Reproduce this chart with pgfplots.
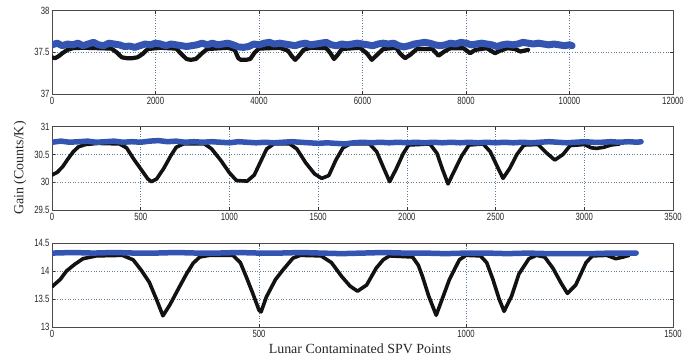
\documentclass[border=0pt]{standalone}
\usepackage{pgfplots}
\pgfplotsset{compat=1.18}
\usepackage{fontspec}
\setmainfont{Liberation Serif}
\newfontfamily\tickfont{Liberation Sans}
\definecolor{bluser}{RGB}{52,84,178}
\definecolor{blkser}{RGB}{18,18,18}
\definecolor{gridc}{RGB}{95,125,150}
\definecolor{framec}{RGB}{80,72,72}
\pgfplotsset{
  panel/.style={
    scale only axis, width=621bp, anchor=north west,
    axis line style={framec, line width=0.9bp},
    xmajorgrids, ymajorgrids,
    grid style={gridc, line width=0.7bp, dash pattern=on 0.8bp off 1.8bp},
    major tick length=3bp,
    tick style={black!80, line width=0.7bp},
    tick label style={font=\tickfont\fontsize{10.5}{12}\selectfont, text=black!85, xscale=0.74},
    /pgf/number format/assume math mode=true,
    /pgf/number format/1000 sep={},
    scaled x ticks=false, scaled y ticks=false,
    axis background/.style={fill=white},
  },
  blk/.style={blkser, line width=3.6bp, line join=round, line cap=round},
  blu/.style={bluser, line width=5.5bp, line join=round, line cap=round},
}
\begin{document}
\begin{tikzpicture}
\useasboundingbox (0,0) rectangle (698bp,-358bp);
% Panel 1
\begin{axis}[panel, at={(52bp,-10.7bp)}, height=83.3bp,
  xmin=0, xmax=12000, ymin=37, ymax=38,
  xtick={0,2000,...,12000}, ytick={37,37.5,38}]
\addplot[blk, line width=4.2bp] coordinates {
(0,37.44) (60,37.43) (120,37.45) (200,37.49) (300,37.53) (400,37.55) (600,37.555) (900,37.55)
(1150,37.545) (1250,37.50) (1350,37.44) (1450,37.43) (1550,37.43) (1650,37.44) (1750,37.48) (1850,37.54)
(2100,37.555) (2400,37.545) (2500,37.48) (2600,37.42) (2680,37.41) (2780,37.42) (2900,37.49) (3000,37.54)
(3400,37.555) (3530,37.53) (3600,37.43) (3650,37.41) (3750,37.41) (3830,37.42) (3920,37.50) (4000,37.545)
(4400,37.555) (4560,37.52) (4640,37.45) (4700,37.41) (4760,37.45) (4860,37.53) (5000,37.555) (5300,37.55)
(5380,37.49) (5450,37.42) (5520,37.47) (5600,37.54) (5950,37.555) (6080,37.49) (6180,37.41) (6280,37.47)
(6400,37.54) (6650,37.555) (6720,37.49) (6820,37.43) (6920,37.47) (7050,37.54) (7350,37.54) (7470,37.46)
(7580,37.51) (7700,37.55) (7950,37.55) (8080,37.49) (8180,37.53) (8400,37.55) (8480,37.52) (8560,37.49)
(8660,37.52) (8800,37.55) (8950,37.54) (9050,37.51) (9200,37.53)};
\addplot[blu, line width=7bp] coordinates {
(0,37.59) (100,37.61) (200,37.58) (300,37.60) (400,37.59) (500,37.61) (600,37.58) (700,37.60) (800,37.62) (900,37.59)
(1000,37.58) (1100,37.61) (1200,37.60) (1300,37.59) (1400,37.57) (1500,37.575) (1600,37.56) (1700,37.58) (1800,37.60) (1900,37.59)
(2000,37.61) (2100,37.60) (2200,37.58) (2300,37.60) (2400,37.59) (2500,37.58) (2600,37.57) (2700,37.58) (2800,37.59) (2900,37.61)
(3000,37.59) (3100,37.61) (3200,37.59) (3300,37.60) (3400,37.61) (3500,37.59) (3600,37.565) (3700,37.56) (3800,37.57) (3900,37.60)
(4000,37.59) (4100,37.61) (4200,37.62) (4300,37.60) (4400,37.61) (4500,37.60) (4600,37.59) (4700,37.58) (4800,37.60) (4900,37.61)
(5000,37.59) (5100,37.60) (5200,37.61) (5300,37.62) (5400,37.59) (5500,37.58) (5600,37.60) (5700,37.59) (5800,37.60) (5900,37.61)
(6000,37.60) (6100,37.59) (6200,37.58) (6300,37.60) (6400,37.61) (6500,37.60) (6600,37.61) (6700,37.58) (6800,37.565) (6900,37.58)
(7000,37.60) (7100,37.61) (7200,37.62) (7300,37.61) (7400,37.59) (7500,37.58) (7600,37.59) (7700,37.61) (7800,37.60) (7900,37.62)
(8000,37.61) (8100,37.59) (8200,37.60) (8300,37.61) (8400,37.60) (8500,37.59) (8600,37.57) (8700,37.59) (8800,37.60) (8900,37.59)
(9000,37.60) (9100,37.62) (9200,37.61) (9300,37.60) (9400,37.61) (9500,37.60) (9600,37.59) (9700,37.60) (9800,37.59) (9900,37.58)
(10000,37.59) (10050,37.58)};
\end{axis}
% Panel 2
\begin{axis}[panel, at={(52bp,-126.7bp)}, height=83.3bp,
  xmin=0, xmax=3500, ymin=29.5, ymax=31,
  xtick={0,500,...,3500}, ytick={29.5,30,30.5,31}]
\addplot[blk] coordinates {
(0,30.13) (30,30.18) (60,30.28) (90,30.42) (120,30.55) (150,30.64) (190,30.68) (260,30.70) (380,30.69)
(420,30.62) (460,30.42) (500,30.24) (540,30.06) (560,30.01) (590,30.06) (630,30.25) (670,30.48) (700,30.63)
(740,30.69) (860,30.69) (900,30.60) (950,30.40) (1000,30.17) (1040,30.03) (1100,30.02) (1140,30.13) (1180,30.40)
(1210,30.60) (1250,30.69) (1340,30.69) (1380,30.60) (1430,30.35) (1480,30.15) (1520,30.07) (1560,30.12) (1600,30.40)
(1640,30.62) (1680,30.69) (1790,30.69) (1830,30.55) (1870,30.25) (1903,30.01) (1940,30.24) (1980,30.52) (2010,30.67)
(2130,30.69) (2170,30.52) (2200,30.24) (2232,29.97) (2270,30.22) (2310,30.48) (2350,30.67) (2430,30.69) (2470,30.55)
(2510,30.28) (2542,30.07) (2580,30.25) (2620,30.50) (2660,30.67) (2740,30.68) (2790,30.52) (2834,30.40) (2880,30.50)
(2920,30.66) (3000,30.68) (3040,30.62) (3070,30.61) (3110,30.63) (3150,30.67) (3200,30.69)};
\addplot[blu] coordinates {
(0,30.72) (50,30.74) (100,30.72) (150,30.73) (200,30.74) (250,30.72) (300,30.73) (350,30.74) (400,30.72)
(450,30.73) (500,30.72) (550,30.74) (600,30.75) (650,30.73) (700,30.74) (750,30.72) (800,30.73) (850,30.72)
(900,30.73) (950,30.72) (1000,30.71) (1050,30.73) (1100,30.72) (1150,30.71) (1200,30.72) (1250,30.71) (1300,30.72)
(1350,30.73) (1400,30.72) (1450,30.71) (1500,30.70) (1550,30.71) (1600,30.70) (1650,30.69) (1700,30.71) (1750,30.72)
(1800,30.71) (1850,30.72) (1900,30.71) (1950,30.72) (2000,30.71) (2050,30.72) (2100,30.71) (2150,30.72) (2200,30.71)
(2250,30.72) (2300,30.71) (2350,30.72) (2400,30.71) (2450,30.72) (2500,30.71) (2550,30.72) (2600,30.71) (2650,30.72)
(2700,30.71) (2750,30.72) (2800,30.73) (2850,30.72) (2900,30.71) (2950,30.72) (3000,30.73) (3050,30.72) (3100,30.72)
(3150,30.73) (3200,30.72) (3250,30.73) (3300,30.72) (3320,30.73)};
\end{axis}
% Panel 3
\begin{axis}[panel, at={(52bp,-243bp)}, height=84bp,
  xmin=0, xmax=1500, ymin=13, ymax=14.5,
  xtick={0,500,1000,1500}, ytick={13,13.5,14,14.5}]
\addplot[blk] coordinates {
(0,13.72) (20,13.85) (35,14.00) (55,14.12) (75,14.22) (107,14.27) (170,14.28) (196,14.20) (215,14.02)
(235,13.80) (252,13.50) (268,13.20) (285,13.40) (308,13.72) (325,13.95) (341,14.14) (357,14.25) (380,14.28)
(437,14.28) (455,14.15) (469,13.90) (485,13.60) (500,13.30) (505,13.27) (518,13.54) (540,13.85) (558,14.02)
(582,14.23) (600,14.28) (650,14.27) (675,14.15) (700,13.90) (720,13.73) (738,13.64) (760,13.75) (783,14.05)
(800,14.20) (815,14.27) (871,14.25) (885,14.10) (895,13.90) (910,13.55) (928,13.21) (945,13.55) (960,13.85)
(984,14.20) (1000,14.28) (1035,14.27) (1050,14.15) (1065,13.85) (1080,13.50) (1092,13.28) (1110,13.55) (1128,13.95)
(1152,14.22) (1170,14.28) (1190,14.25) (1210,14.05) (1230,13.78) (1245,13.60) (1265,13.75) (1290,14.15) (1305,14.27)
(1340,14.28) (1362,14.22) (1380,14.25) (1394,14.28)};
\addplot[blu] coordinates {
(0,14.32) (50,14.33) (100,14.32) (150,14.33) (200,14.32) (250,14.32) (300,14.33) (350,14.32) (400,14.32)
(450,14.33) (500,14.32) (550,14.32) (600,14.33) (650,14.32) (700,14.31) (750,14.32) (800,14.33) (850,14.32)
(900,14.32) (950,14.31) (1000,14.32) (1050,14.32) (1100,14.31) (1150,14.32) (1200,14.31) (1250,14.31) (1300,14.31)
(1350,14.32) (1411,14.32)};
\end{axis}
\node[rotate=90, font=\fontsize{14}{16}\selectfont, text=black!85] at (20bp,-168bp) {Gain (Counts/K)};
\node[font=\fontsize{14}{16}\selectfont, text=black!85] at (360bp,-349bp) {Lunar Contaminated SPV Points};
\end{tikzpicture}
\end{document}
